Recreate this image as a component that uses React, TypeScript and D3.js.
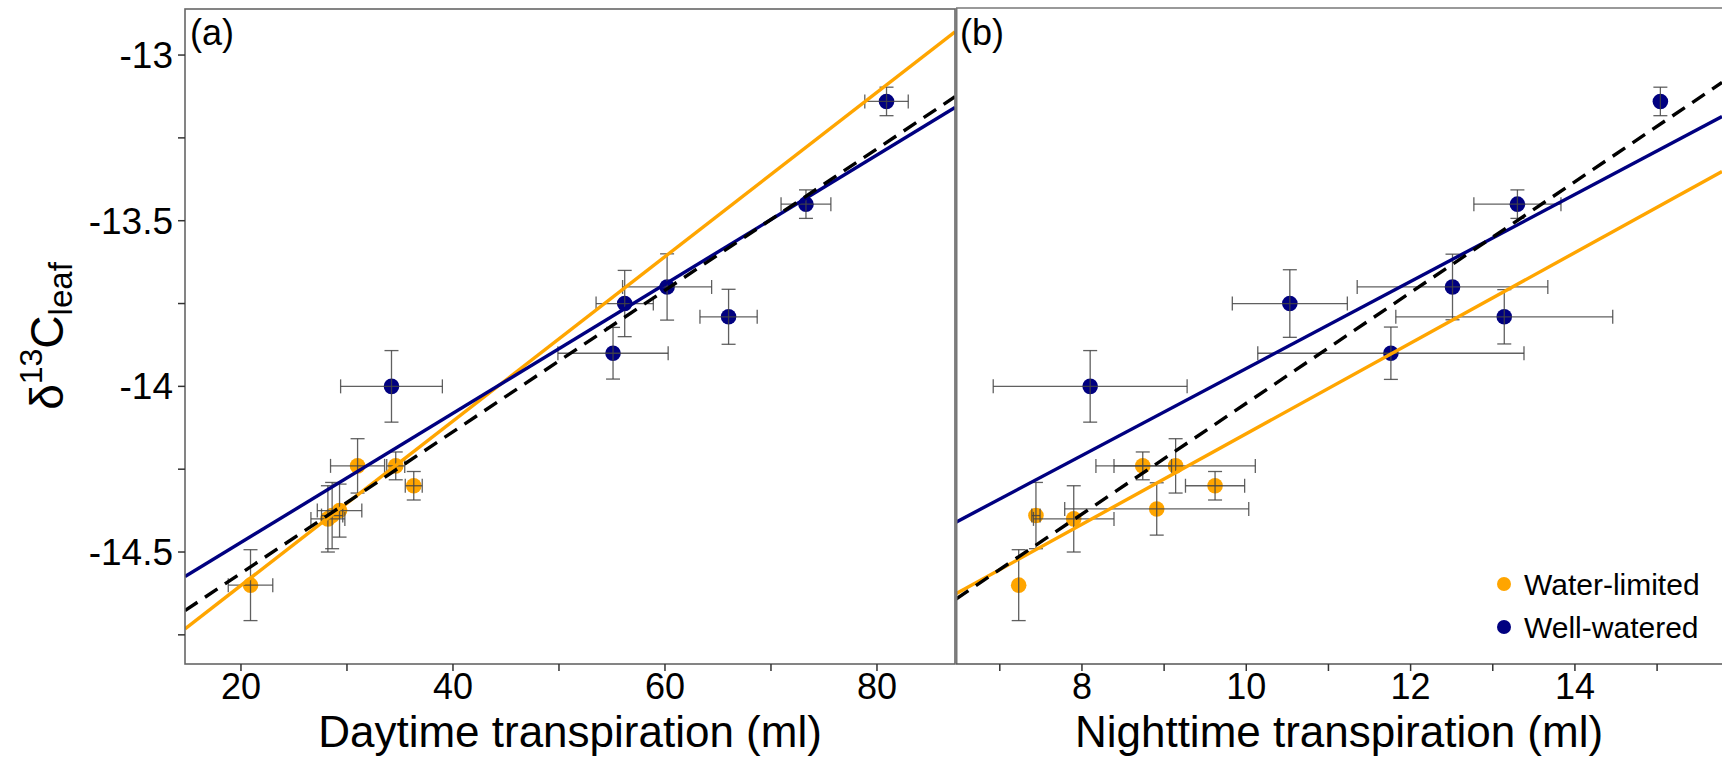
import React from 'react';
import * as d3 from 'd3';

const ORANGE = '#FFA500';
const NAVY = '#000080';
const FONT = '"Liberation Sans", Arial, sans-serif';

// (a) daytime transpiration
const dayLimitedX = [20.9, 28.2, 28.6, 29.3, 31.0, 34.6, 36.3];
const dayLimitedY = [-14.6, -14.4, -14.39, -14.375, -14.24, -14.24, -14.3];
const dayLimitedXErr = [2.1, 1.6, 1.0, 2.1, 2.55, 0.85, 0.8];
const dayLimitedYErr = [0.107, 0.1, 0.1, 0.08, 0.082, 0.042, 0.043];

const dayWellX = [34.2, 55.1, 56.2, 60.2, 66.0, 73.3, 80.9];
const dayWellY = [-14.0, -13.9, -13.75, -13.7, -13.79, -13.45, -13.14];
const dayWellXErr = [4.8, 5.2, 2.7, 4.2, 2.7, 2.35, 2.05];
const dayWellYErr = [0.108, 0.078, 0.1, 0.1, 0.083, 0.043, 0.043];

// (b) nighttime transpiration
const nightLimitedX = [7.23, 7.44, 7.9, 8.74, 9.14, 8.91, 9.62];
const nightLimitedY = [-14.6, -14.39, -14.4, -14.24, -14.24, -14.37, -14.3];
const nightLimitedXErr = [0, 0.05, 0.49, 0.35, 0.97, 1.12, 0.36];
const nightLimitedYErr = [0.107, 0.1, 0.1, 0.042, 0.082, 0.079, 0.043];

const nightWellX = [8.1, 10.53, 11.76, 12.51, 13.14, 13.3, 15.04];
const nightWellY = [-14.0, -13.75, -13.9, -13.7, -13.79, -13.45, -13.14];
const nightWellXErr = [1.18, 0.7, 1.62, 1.16, 1.32, 0.53, 0];
const nightWellYErr = [0.108, 0.102, 0.079, 0.099, 0.082, 0.043, 0.043];

// fitted lines: [slope, intercept]
const dayFits = { limited: [0.02481, -15.097], well: [0.01949, -14.861], pooled: [0.02135, -14.991] };
const nightFits = { limited: [0.1367, -15.51], well: [0.1313, -15.259], pooled: [0.1672, -15.723] };

const yTicks = [-13, -13.25, -13.5, -13.75, -14, -14.25, -14.5, -14.75];
const yLabels = [-13, -13.5, -14, -14.5];
const dayTicks = [20, 30, 40, 50, 60, 70, 80];
const dayLabels = [20, 40, 60, 80];
const nightTicks = [7, 8, 9, 10, 11, 12, 13, 14, 15];
const nightLabels = [8, 10, 12, 14];

const top = 9;
const bottom = 664;

const yScale = d3.scaleLinear().domain([-14.838, -12.861]).range([bottom, top]);

function Group({ x, xs, ys, xErr, yErr, color }) {
  const cap = 7;
  return (
    <g>
      {xs.map((v, i) => (
        <circle key={'p' + i} cx={x(v)} cy={yScale(ys[i])} r={7.8} fill={color} />
      ))}
      {xs.map((v, i) => {
        const cx = x(v);
        const cy = yScale(ys[i]);
        const y0 = yScale(ys[i] - yErr[i]);
        const y1 = yScale(ys[i] + yErr[i]);
        const x0 = x(v - xErr[i]);
        const x1 = x(v + xErr[i]);
        return (
          <g key={'e' + i} stroke="#444" strokeWidth={1.3} strokeOpacity={0.85}>
            <line x1={cx} x2={cx} y1={y0} y2={y1} />
            <line x1={cx - cap} x2={cx + cap} y1={y0} y2={y0} />
            <line x1={cx - cap} x2={cx + cap} y1={y1} y2={y1} />
            {xErr[i] > 0 && (
              <>
                <line x1={x0} x2={x1} y1={cy} y2={cy} />
                <line x1={x0} x2={x0} y1={cy - cap} y2={cy + cap} />
                <line x1={x1} x2={x1} y1={cy - cap} y2={cy + cap} />
              </>
            )}
          </g>
        );
      })}
    </g>
  );
}

function FitLine({ x, fit, color, dashed }) {
  const [lo, hi] = x.domain();
  const line = d3
    .line()
    .x((d) => x(d))
    .y((d) => yScale(fit[0] * d + fit[1]));
  return (
    <path
      d={line([lo, hi])}
      fill="none"
      stroke={color}
      strokeWidth={3.4}
      strokeDasharray={dashed ? '15 9' : undefined}
    />
  );
}

function XAxis({ x, ticks, labels, title }) {
  const [r0, r1] = x.range();
  return (
    <g fontFamily={FONT}>
      {ticks.map((t) => (
        <line key={t} x1={x(t)} x2={x(t)} y1={bottom} y2={bottom + 7} stroke="#333" strokeWidth={1.5} />
      ))}
      {labels.map((t) => (
        <text key={t} x={x(t)} y={699} fontSize={36} textAnchor="middle">
          {t}
        </text>
      ))}
      <text x={(r0 + r1) / 2} y={747} fontSize={44} textAnchor="middle">
        {title}
      </text>
    </g>
  );
}

export default function App() {
  const xDay = d3.scaleLinear().domain([14.72, 87.36]).range([185, 955]);
  const xNight = d3.scaleLinear().domain([6.467, 15.79]).range([956, 1722]);

  return (
    <div>
      <style>{'body{margin:0}'}</style>
      <svg width={1722} height={757} style={{ display: 'block' }}>
        <defs>
          <clipPath id="clipA">
            <rect x={185} y={top} width={770} height={bottom - top} />
          </clipPath>
          <clipPath id="clipB">
            <rect x={956} y={top} width={766} height={bottom - top} />
          </clipPath>
        </defs>
        <rect width={1722} height={757} fill="#fff" />

        {/* panel (a) */}
        <g clipPath="url(#clipA)">
          <Group x={xDay} xs={dayLimitedX} ys={dayLimitedY} xErr={dayLimitedXErr} yErr={dayLimitedYErr} color={ORANGE} />
          <Group x={xDay} xs={dayWellX} ys={dayWellY} xErr={dayWellXErr} yErr={dayWellYErr} color={NAVY} />
          <FitLine x={xDay} fit={dayFits.limited} color={ORANGE} />
          <FitLine x={xDay} fit={dayFits.well} color={NAVY} />
          <FitLine x={xDay} fit={dayFits.pooled} color="#000" dashed />
        </g>

        {/* panel (b) */}
        <g clipPath="url(#clipB)">
          <Group x={xNight} xs={nightLimitedX} ys={nightLimitedY} xErr={nightLimitedXErr} yErr={nightLimitedYErr} color={ORANGE} />
          <Group x={xNight} xs={nightWellX} ys={nightWellY} xErr={nightWellXErr} yErr={nightWellYErr} color={NAVY} />
          <FitLine x={xNight} fit={nightFits.limited} color={ORANGE} />
          <FitLine x={xNight} fit={nightFits.well} color={NAVY} />
          <FitLine x={xNight} fit={nightFits.pooled} color="#000" dashed />
        </g>

        {/* frames */}
        <rect x={185} y={top} width={770} height={bottom - top} fill="none" stroke="#666" strokeWidth={1.6} />
        <line x1={956.5} x2={956.5} y1={top - 1} y2={bottom} stroke="#777" strokeWidth={2} />
        <line x1={956} x2={1722} y1={top - 1} y2={top - 1} stroke="#777" strokeWidth={1.6} />
        <line x1={956} x2={1722} y1={bottom} y2={bottom} stroke="#555" strokeWidth={1.6} />

        {/* y axis */}
        <g fontFamily={FONT}>
          {yTicks.map((t) => (
            <line key={t} x1={178} x2={185} y1={yScale(t)} y2={yScale(t)} stroke="#333" strokeWidth={1.5} />
          ))}
          {yLabels.map((t) => (
            <text key={t} x={173} y={yScale(t) + 13} fontSize={37} textAnchor="end">
              {String(t)}
            </text>
          ))}
          <text transform="translate(63,336) rotate(-90)" fontSize={46} textAnchor="middle">
            δ
            <tspan dy={-21} fontSize={32}>13</tspan>
            <tspan dy={21}>C</tspan>
            <tspan dy={9} fontSize={33}>leaf</tspan>
          </text>
        </g>

        <XAxis x={xDay} ticks={dayTicks} labels={dayLabels} title="Daytime transpiration (ml)" />
        <XAxis x={xNight} ticks={nightTicks} labels={nightLabels} title="Nighttime transpiration (ml)" />

        {/* panel labels */}
        <text x={190} y={45} fontSize={36} fontFamily={FONT}>(a)</text>
        <text x={960} y={45} fontSize={36} fontFamily={FONT}>(b)</text>

        {/* legend */}
        <g fontFamily={FONT} fontSize={30}>
          <circle cx={1504} cy={584} r={7} fill={ORANGE} />
          <text x={1524} y={595}>Water-limited</text>
          <circle cx={1504} cy={627} r={7} fill={NAVY} />
          <text x={1524} y={638}>Well-watered</text>
        </g>
      </svg>
    </div>
  );
}
